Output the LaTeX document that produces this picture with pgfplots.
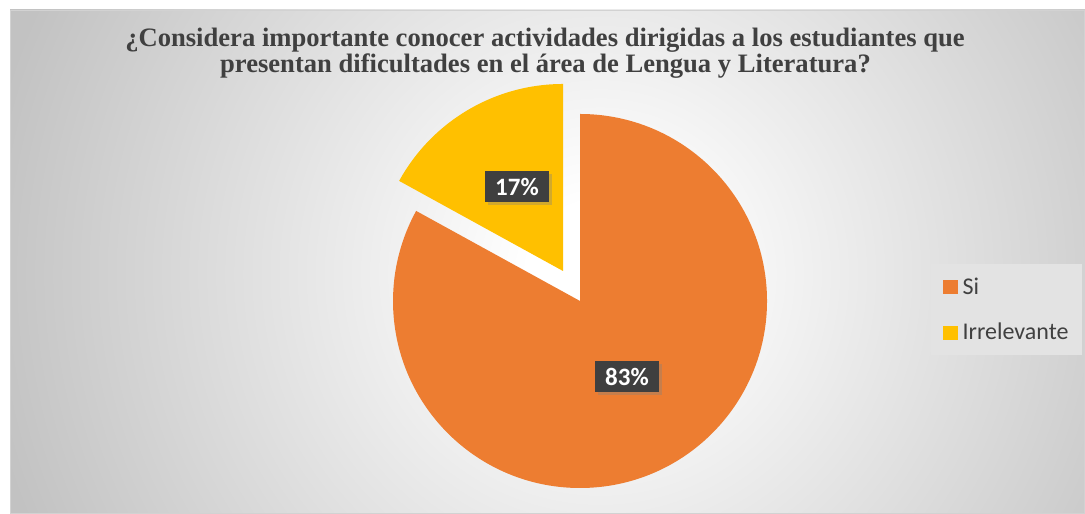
\documentclass[border=0pt]{standalone}
\usepackage{pgfplots}
\pgfplotsset{compat=1.18}
\usepackage{pgfplotstable}
\usepackage{fontspec}
\setmainfont{Liberation Serif}
\newfontfamily\carlito{Carlito}
\usetikzlibrary{shadows}
\definecolor{siorange}{HTML}{ED7D31}
\definecolor{irryellow}{HTML}{FFC000}
\definecolor{txtgray}{HTML}{404040}
\definecolor{bggray}{HTML}{C2C2C2}
\definecolor{labelbox}{HTML}{3F3F3F}
\definecolor{legbg}{HTML}{E3E3E3}
\pgfdeclareradialshading{bgshade}{\pgfpoint{0bp}{0bp}}{color(0bp)=(white); color(1.5bp)=(white); color(13bp)=(bggray); color(50bp)=(bggray)}

\pgfplotstableread{
label value
Si 83
Irrelevante 17
}\piedata

\begin{document}
\begin{tikzpicture}[x=1bp,y=1bp]
\useasboundingbox (0,0) rectangle (1085,514);
\fill[white] (0,0) rectangle (1085,514);
\begin{scope}
\clip (10,0) rectangle (1085,504);
\fill[bggray] (10,0) rectangle (1085,504);
\shade[shading=bgshade] (600,240) circle[radius=1200bp];
\end{scope}
\draw[gray!35] (10.5,0.5) rectangle (1084.5,503.5);
\node[anchor=base, text=txtgray, font=\bfseries\fontsize{26.6bp}{27bp}\selectfont, inner sep=0pt] at (545,467)
 {¿Considera importante conocer actividades dirigidas a los estudiantes que};
\node[anchor=base, text=txtgray, font=\bfseries\fontsize{26.6bp}{27bp}\selectfont, inner sep=0pt] at (545.5,441)
 {presentan dificultades en el área de Lengua y Literatura?};
\pgfplotstablegetelem{0}{value}\of\piedata \pgfmathsetmacro\vSi{\pgfplotsretval}
\pgfplotstablegetelem{1}{value}\of\piedata \pgfmathsetmacro\vIrr{\pgfplotsretval}
\pgfmathsetmacro\total{\vSi+\vIrr}
\pgfmathsetmacro\aSi{360*(\vSi/\total)}
\pgfmathsetmacro\aIrr{360*(\vIrr/\total)}
\pgfmathsetmacro\endSi{90-\aSi}
\pgfmathsetmacro\endIrr{90+\aIrr}
\pgfmathtruncatemacro\pSi{round(100*(\vSi/\total))}
\pgfmathtruncatemacro\pIrr{round(100*(\vIrr/\total))}
\begin{axis}[at={(0,0)}, anchor=south west, scale only axis,
  width=1085bp, height=514bp, xmin=0, xmax=1085, ymin=0, ymax=514,
  hide axis, clip=false,
  legend style={at={(axis cs:931,250)}, anchor=north west, fill=legbg, draw=none,
    font=\carlito\fontsize{24bp}{28bp}\selectfont, text=txtgray,
    row sep=23bp, inner xsep=12bp, inner ysep=12bp},
  legend cell align=left]
\addlegendimage{legend image code/.code={\fill[siorange] (0bp,-6.5bp) rectangle (14bp,6.5bp); \path (17bp,0bp);}}
\addlegendentry{Si}
\addlegendimage{legend image code/.code={\fill[irryellow] (0bp,-6.5bp) rectangle (14bp,6.5bp); \path (17bp,0bp);}}
\addlegendentry{Irrelevante}
\fill[siorange] (axis cs:580,213) -- ++(90:187bp) arc[start angle=90, end angle=\endSi, radius=187bp] -- cycle;
\fill[irryellow] (axis cs:563,243) -- ++(90:187bp) arc[start angle=90, end angle=\endIrr, radius=187bp] -- cycle;
\node[fill=labelbox, text=white, font=\carlito\bfseries\fontsize{25bp}{30bp}\selectfont,
  minimum width=64bp, minimum height=31bp, inner sep=0pt,
  drop shadow={shadow xshift=3bp, shadow yshift=-3bp, opacity=0.35}] at (axis cs:627,137) {\pSi\%};
\node[fill=labelbox, text=white, font=\carlito\bfseries\fontsize{25bp}{30bp}\selectfont,
  minimum width=64bp, minimum height=31bp, inner sep=0pt,
  drop shadow={shadow xshift=3bp, shadow yshift=-3bp, opacity=0.35}] at (axis cs:517,327) {\pIrr\%};
\end{axis}
\end{tikzpicture}
\end{document}
